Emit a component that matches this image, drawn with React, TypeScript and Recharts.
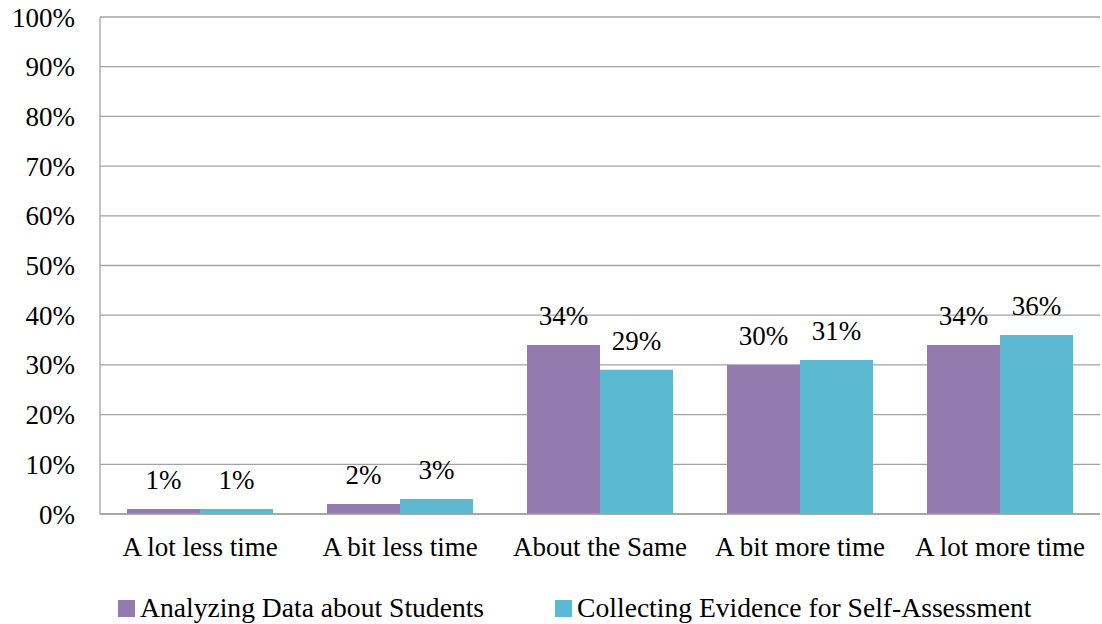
import React from 'react';
import { Bar, BarChart, CartesianGrid, LabelList, Legend, XAxis, YAxis } from 'recharts';

const categories = ['A lot less time', 'A bit less time', 'About the Same', 'A bit more time', 'A lot more time'];
const analyzing = [1, 2, 34, 30, 34];
const collecting = [1, 3, 29, 31, 36];
const yTicks = [0, 10, 20, 30, 40, 50, 60, 70, 80, 90, 100];

const series = [
  { key: 'analyzing', name: 'Analyzing Data about Students', color: '#937bb0' },
  { key: 'collecting', name: 'Collecting Evidence for Self-Assessment', color: '#5bb9d2' },
];

const data = categories.map((c, i) => ({ category: c, analyzing: analyzing[i], collecting: collecting[i] }));

const font = '"Liberation Serif", serif';
const pct = (v: number) => `${v}%`;

const LegendContent = () => (
  <div style={{ display: 'flex', height: 32, alignItems: 'center', paddingLeft: 118, fontFamily: font, fontSize: 27.6, color: '#000' }}>
    {series.map((s, i) => (
      <div key={s.key} style={{ display: 'flex', alignItems: 'center', marginRight: i === 0 ? 71 : 0 }}>
        <span style={{ width: 17, height: 17, background: s.color, display: 'inline-block', marginRight: 5 }} />
        <span>{s.name}</span>
      </div>
    ))}
  </div>
);

const App: React.FC = () => {
  return (
    <div style={{ position: 'absolute', left: 0, top: 0, background: '#fff' }}>
      <BarChart
        width={1102}
        height={624}
        data={data}
        margin={{ top: 17, right: 2, bottom: 28, left: 0 }}
        barCategoryGap={27}
        barGap={0}
      >
        <CartesianGrid vertical={false} stroke="#a3a3a3" strokeWidth={1.3} />
        <XAxis
          dataKey="category"
          height={50}
          axisLine={{ stroke: '#a3a3a3', strokeWidth: 1.3 }}
          tickLine={false}
          tickSize={0}
          tickMargin={23}
          tick={{ fill: '#000', fontSize: 27, fontFamily: font }}
        />
        <YAxis
          width={100}
          domain={[0, 100]}
          ticks={yTicks}
          interval={0}
          tickFormatter={pct}
          axisLine={{ stroke: '#a3a3a3', strokeWidth: 1.3 }}
          tickLine={false}
          tickSize={0}
          tickMargin={25}
          tick={{ fill: '#000', fontSize: 27, fontFamily: font }}
        />
        <Legend verticalAlign="bottom" content={<LegendContent />} wrapperStyle={{ left: 0, top: 592, width: 1102 }} />
        {series.map((s) => (
          <Bar key={s.key} dataKey={s.key} name={s.name} fill={s.color} isAnimationActive={false}>
            <LabelList dataKey={s.key} position="top" offset={20} formatter={pct} fill="#000" fontSize={27} fontFamily={font} />
          </Bar>
        ))}
      </BarChart>
    </div>
  );
};

export default App;
